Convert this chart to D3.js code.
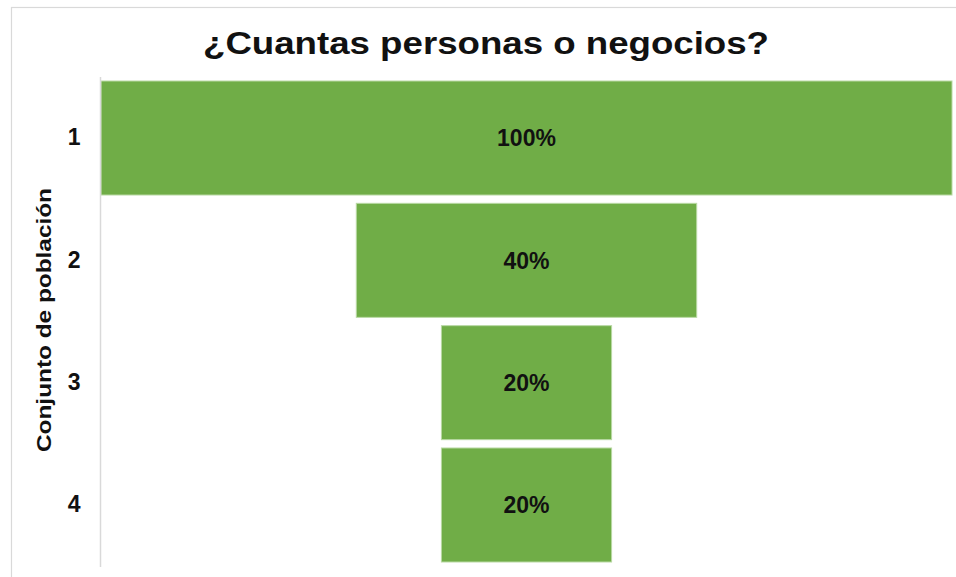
<!DOCTYPE html>
<html>
<head>
<meta charset="utf-8">
<script src="https://cdn.jsdelivr.net/npm/d3@7"></script>
<style>
  html, body { margin: 0; padding: 0; background: #ffffff; }
  svg { display: block; }
  text { font-family: "Liberation Sans", Arial, sans-serif; }
</style>
</head>
<body>
<svg id="chart" width="956" height="577"></svg>
<script>
// Funnel stages and their share of the starting population (%)
const categories = ["1", "2", "3", "4"];
const values = [100, 40, 20, 20];
const titleText = "¿Cuantas personas o negocios?";
const axisTitle = "Conjunto de población";

const svg = d3.select("#chart");
const W = 956, H = 577;

// Chart frame (only the top and left edges fall inside the view)
svg.append("rect")
  .attr("x", 11.5).attr("y", 7.5)
  .attr("width", W + 20).attr("height", H + 20)
  .attr("fill", "#ffffff")
  .attr("stroke", "#d9d9d9").attr("stroke-width", 1.2);

// Plot geometry
const plotLeft = 101, plotRight = 952;
const centerX = (plotLeft + plotRight) / 2;

const y = d3.scaleBand()
  .domain(categories)
  .range([81, 562])
  .paddingInner(0.068)
  .paddingOuter(0);

const x = d3.scaleLinear()
  .domain([0, 100])
  .range([0, plotRight - plotLeft]);

// Funnel bars, centred horizontally
const data = categories.map((c, i) => ({ cat: c, val: values[i] }));

svg.append("g")
  .selectAll("rect")
  .data(data)
  .join("rect")
  .attr("x", d => centerX - x(d.val) / 2)
  .attr("y", d => y(d.cat))
  .attr("width", d => x(d.val))
  .attr("height", y.bandwidth())
  .attr("fill", "#70ad47")
  .attr("stroke", "#b9d9a4")
  .attr("stroke-width", 1);

// Value labels
svg.append("g")
  .selectAll("text")
  .data(data)
  .join("text")
  .attr("x", centerX)
  .attr("y", d => y(d.cat) + y.bandwidth() / 2)
  .attr("dy", "0.36em")
  .attr("text-anchor", "middle")
  .attr("font-size", 23)
  .attr("font-weight", "bold")
  .attr("fill", "#111111")
  .text(d => d.val + "%");

// Category axis
const axis = d3.axisLeft(y).tickSize(0).tickPadding(20);
const gAxis = svg.append("g")
  .attr("transform", `translate(100.5,0)`)
  .call(axis);
gAxis.select(".domain").remove();
gAxis.selectAll("text")
  .attr("font-size", 23)
  .attr("font-weight", "bold")
  .attr("fill", "#111111")
  .attr("font-family", "'Liberation Sans', Arial, sans-serif");

// Axis line
svg.append("line")
  .attr("x1", 100.5).attr("x2", 100.5)
  .attr("y1", 77).attr("y2", 567)
  .attr("stroke", "#d9d9d9").attr("stroke-width", 1.5);

// Axis title
svg.append("text")
  .attr("transform", "translate(51,320) rotate(-90)")
  .attr("text-anchor", "middle")
  .attr("font-size", 21)
  .attr("font-weight", "bold")
  .attr("fill", "#111111")
  .attr("textLength", 264)
  .attr("lengthAdjust", "spacingAndGlyphs")
  .text(axisTitle);

// Chart title
svg.append("text")
  .attr("x", 486)
  .attr("y", 54)
  .attr("text-anchor", "middle")
  .attr("font-size", 32)
  .attr("font-weight", "bold")
  .attr("fill", "#111111")
  .attr("textLength", 566)
  .attr("lengthAdjust", "spacingAndGlyphs")
  .text(titleText);
</script>
</body>
</html>
